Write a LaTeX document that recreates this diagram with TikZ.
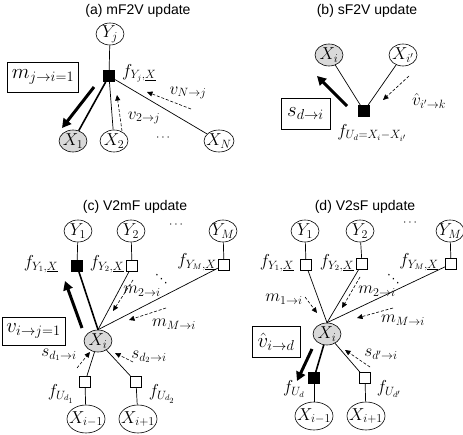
\documentclass[tikz,border=0pt]{standalone}
\usepackage{fontspec}
\setmainfont{Liberation Sans}
\usetikzlibrary{shapes.geometric,arrows.meta}
\tikzset{
  var/.style={draw, ellipse, minimum width=28pt, minimum height=22pt, inner sep=-2pt, font=\fontsize{18}{18}\selectfont, line width=0.6pt},
  wvar/.style={var, minimum width=38pt, minimum height=28pt, inner sep=-5pt},
  obs/.style={var, fill=gray!30},
  fac/.style={draw, rectangle, minimum size=11.5pt, inner sep=0pt, line width=0.6pt, fill=white},
  facb/.style={fac, fill=black},
  edge/.style={line width=0.7pt},
  thickedge/.style={line width=1.6pt},
  msg/.style={dash pattern=on 3pt off 1.8pt, line width=0.6pt, -{Triangle[length=5.5pt,width=5pt]}},
  bigarrow/.style={line width=3pt, -{Triangle[length=9pt,width=9.5pt]}},
  lbl/.style={font=\fontsize{16.5}{16.5}\selectfont, inner sep=0pt},
  lbox/.style={draw, line width=0.6pt, font=\fontsize{20}{20}\selectfont, inner sep=0pt},
  ttl/.style={font=\fontsize{14}{14}\selectfont, inner sep=0pt},
  dots/.style={font=\fontsize{13}{13}\selectfont, inner sep=0pt}
}
\begin{document}
\begin{tikzpicture}[x=1pt,y=-1pt]
\useasboundingbox (0,0) rectangle (463,435);

% ---------------- (a) ----------------
\node[ttl] (ta) at (138,11) {(a) mF2V update};
\node[var] (Yj) at (110,34) {$Y_j$};
\node[facb] (fa) at (109,76) {};
\node[obs] (aX1) at (73,141) {$X_1$};
\node[var] (aX2) at (114,141) {$X_2$};
\node[var] (aXN) at (219,141) {$X_N$};
\node[dots] (adots) at (163,138) {$\cdots$};
\draw[edge] (Yj) -- (fa);
\draw[thickedge] (fa) -- (aX1);
\draw[edge] (fa) -- (aX2);
\draw[edge] (fa) -- (aXN);
\node[lbl, anchor=west] (fal) at (122,73) {$f_{Y_j,\underline{X}}$};
\node[lbox, minimum width=71pt, minimum height=30pt] (ma) at (43,77) {$m_{j\to i=1}$};
\coordinate (a1s) at (94,87); \coordinate (a1e) at (62,128);
\draw[bigarrow] (a1s) -- (a1e);
\coordinate (a2s) at (122,131); \coordinate (a2e) at (117,95);
\draw[msg] (a2s) -- (a2e);
\node[lbl] (v2l) at (144,118) {$v_{2\to j}$};
\coordinate (a3s) at (191,109); \coordinate (a3e) at (147,92);
\draw[msg] (a3s) -- (a3e);
\node[lbl] (vNl) at (188,93) {$v_{N\to j}$};

% ---------------- (b) ----------------
\node[ttl] (tb) at (367,11) {(b) sF2V update};
\node[obs] (bXi) at (329,55) {$X_i$};
\node[var] (bXj) at (403,55) {$X_{i'}$};
\node[facb] (fb) at (364,111) {};
\draw[edge] (bXi) -- (fb);
\draw[edge] (bXj) -- (fb);
\coordinate (b1s) at (347,106); \coordinate (b1e) at (317,76);
\draw[bigarrow] (b1s) -- (b1e);
\coordinate (b2s) at (409,76); \coordinate (b2e) at (383,100);
\draw[msg] (b2s) -- (b2e);
\node[lbl] (vhl) at (429,101) {$\hat{v}_{i'\to k}$};
\node[lbox, minimum width=49pt, minimum height=31pt] (sb) at (305.5,113.5) {$s_{d\to i}$};
\node[lbl] (fbl) at (372,133) {$f_{U_d= X_i - X_{i'}}$};

% ---------------- (c) ----------------
\node[ttl] (tc) at (135,207) {(c) V2mF update};
\node[var] (cY1) at (78,231) {$Y_1$};
\node[var] (cY2) at (131,231) {$Y_2$};
\node[var] (cYM) at (223,231) {$Y_M$};
\node[dots] (cdots) at (176,225) {$\cdots$};
\node[facb] (cf1) at (77,266) {};
\node[fac] (cf2) at (132,266) {};
\node[fac] (cfM) at (224,265) {};
\node[obs] (cXi) at (98,341) {$X_i$};
\draw[edge] (cY1) -- (cf1);
\draw[edge] (cY2) -- (cf2);
\draw[edge] (cYM) -- (cfM);
\draw[thickedge] (cf1) -- (cXi.north);
\draw[edge] (cf2) -- (cXi.north);
\draw[edge] (cfM) -- (cXi.north);
\node[lbl] (cf1l) at (41,264) {$f_{Y_1,\underline{X}}$};
\node[lbl] (cf2l) at (107,264) {$f_{Y_2,\underline{X}}$};
\node[lbl] (cfMl) at (197,262) {$f_{Y_M,\underline{X}}$};
\coordinate (c1s) at (82,328); \coordinate (c1e) at (65,281);
\draw[bigarrow] (c1s) -- (c1e);
\node[lbox, minimum width=63pt, minimum height=28pt] (vb) at (33.5,331) {$v_{i\to j=1}$};
\coordinate (c2s) at (133,280); \coordinate (c2e) at (113,311);
\draw[msg] (c2s) -- (c2e);
\node[lbl] (cm2l) at (142,291) {$m_{2\to i}$};
\node[dots, rotate=-10] (cddots) at (162,276) {$\ddots$};
\coordinate (c3s) at (166,308); \coordinate (c3e) at (129,320);
\draw[msg] (c3s) -- (c3e);
\node[lbl] (cmMl) at (174,324) {$m_{M\to i}$};
\node[fac] (cd1) at (85,382) {};
\node[fac] (cd2) at (136,382) {};
\node[wvar] (cXa) at (86,419) {$X_{i-1}$};
\node[wvar] (cXb) at (138,419) {$X_{i+1}$};
\draw[edge] (cXi) -- (cd1);
\draw[edge] (cXi) -- (cd2);
\draw[edge] (cd1) -- (cXa);
\draw[edge] (cd2) -- (cXb);
\coordinate (c4s) at (77,368); \coordinate (c4e) at (90,352);
\draw[msg] (c4s) -- (c4e);
\node[lbl] (cs1l) at (59,355) {$s_{d_1\to i}$};
\coordinate (c5s) at (133,362); \coordinate (c5e) at (115,353);
\draw[msg] (c5s) -- (c5e);
\node[lbl] (cs2l) at (149,357) {$s_{d_2\to i}$};
\node[lbl] (cd1l) at (61,394) {$f_{U_{d_1}}$};
\node[lbl] (cd2l) at (162,394) {$f_{U_{d_2}}$};

% ---------------- (d) ----------------
\node[ttl] (td) at (365,207) {(d) V2sF update};
\node[var] (dY1) at (305,231) {$Y_1$};
\node[var] (dY2) at (360,231) {$Y_2$};
\node[var] (dYM) at (450,231) {$Y_M$};
\node[dots] (ddots) at (410,223) {$\cdots$};
\node[fac] (df1) at (306,265) {};
\node[fac] (df2) at (362,264) {};
\node[fac] (dfM) at (451,264) {};
\node[obs] (dXi) at (327,334) {$X_i$};
\draw[edge] (dY1) -- (df1);
\draw[edge] (dY2) -- (df2);
\draw[edge] (dYM) -- (dfM);
\draw[edge] (df1) -- (dXi.north);
\draw[edge] (df2) -- (dXi.north);
\draw[edge] (dfM) -- (dXi.north);
\node[lbl] (df1l) at (277,263) {$f_{Y_1,\underline{X}}$};
\node[lbl] (df2l) at (337,263) {$f_{Y_2,\underline{X}}$};
\node[lbl] (dfMl) at (419,262) {$f_{Y_M,\underline{X}}$};
\coordinate (d1s) at (305,297); \coordinate (d1e) at (317,313);
\draw[msg] (d1s) -- (d1e);
\node[lbl] (dm1l) at (284,299) {$m_{1\to i}$};
\coordinate (d2s) at (360,277); \coordinate (d2e) at (342,308);
\draw[msg] (d2s) -- (d2e);
\node[lbl] (dm2l) at (377,291) {$m_{2\to i}$};
\node[dots, rotate=-10] (dddots) at (394,276) {$\ddots$};
\coordinate (d3s) at (393,308); \coordinate (d3e) at (357,318);
\draw[msg] (d3s) -- (d3e);
\node[lbl] (dmMl) at (403,320) {$m_{M\to i}$};
\node[lbox, minimum width=48pt, minimum height=31pt] (vhb) at (276,341.5) {$\hat{v}_{i\to d}$};
\node[facb] (dd1) at (314,378) {};
\node[fac] (dd2) at (365,378) {};
\node[wvar] (dXa) at (314,416) {$X_{i-1}$};
\node[wvar] (dXb) at (366,416) {$X_{i+1}$};
\draw[thickedge] (dXi) -- (dd1);
\draw[edge] (dXi) -- (dd2);
\draw[edge] (dd1) -- (dXa);
\draw[edge] (dd2) -- (dXb);
\coordinate (d4s) at (312,349); \coordinate (d4e) at (297,381);
\draw[bigarrow] (d4s) -- (d4e);
\coordinate (d5s) at (370,367); \coordinate (d5e) at (345,350);
\draw[msg] (d5s) -- (d5e);
\node[lbl] (ds1l) at (381,354) {$s_{d'\to i}$};
\node[lbl] (dd1l) at (294,389) {$f_{U_d}$};
\node[lbl] (dd2l) at (389,389) {$f_{U_{d'}}$};
\end{tikzpicture}
\end{document}
